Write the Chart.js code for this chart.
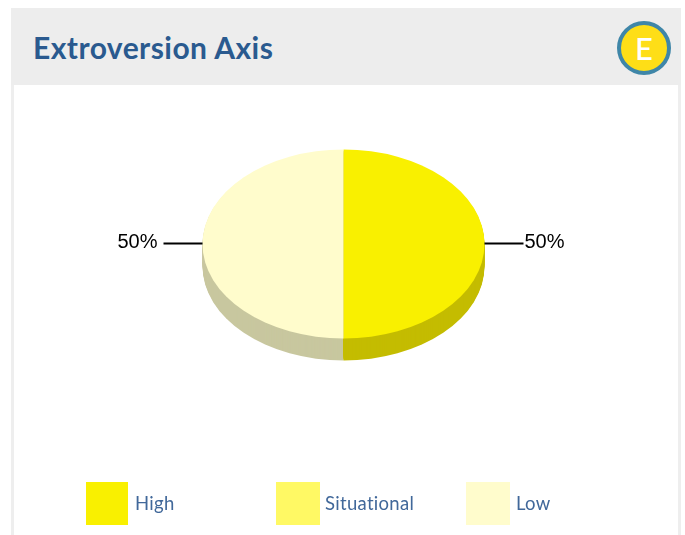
<!DOCTYPE html>
<html>
<head>
<meta charset="utf-8">
<script src="https://cdn.jsdelivr.net/npm/chart.js@4"></script>
<style>
html,body{margin:0;padding:0;background:#fff;width:685px;height:535px;overflow:hidden}
#panel{position:absolute;left:11px;top:85px;width:664px;height:450px;background:#fff;border-left:3px solid #eeeeee;border-right:3px solid #eeeeee}
#header{position:absolute;left:11px;top:8px;width:670px;height:77px;background:#ededed}
#title{position:absolute;left:33px;top:29px;font:700 30px/36px Lato,sans-serif;letter-spacing:.45px;color:#2a5a8f;white-space:nowrap}
#badge{position:absolute;left:617px;top:21px;width:46px;height:46px;border:4px solid #3f86a8;border-radius:50%;background:#fede17;color:#fff;font:500 31px/46px Lato,sans-serif;text-align:center}
canvas{position:absolute;left:0;top:0}
.sw{position:absolute;top:482px;height:43px}
.lb{position:absolute;top:491px;font:400 18.5px/24px Lato,sans-serif;letter-spacing:.3px;color:#41689a;white-space:nowrap}
</style>
</head>
<body>
<div id="header"></div>
<div id="panel"></div>
<div id="title">Extroversion Axis</div>
<div id="badge">E</div>
<canvas id="c" width="685" height="535"></canvas>
<div id="legend"></div>
<script>
const categories = ["High", "Situational", "Low"];
const shareValues = [50, 0, 50];
const sliceColors = ["#f9f000", "#fff964", "#fffccc"];
const sideColors = ["#c4bc00", "#c8c400", "#c8c79f"];

const squash = 0.67, depth = 22;

const pie3d = {
  id: "pie3d",
  beforeDatasetsDraw(chart) {
    const ctx = chart.ctx, arcs = chart.getDatasetMeta(0).data;
    ctx.save();
    [...arcs.keys()].reverse().forEach(i => {
      const a = arcs[i];
      const p = a.getProps(["x","y","startAngle","endAngle","outerRadius"], true);
      if (p.endAngle - p.startAngle <= 0) return;
      ctx.fillStyle = sideColors[i];
      for (let d = depth; d >= 1; d--) {
        ctx.save();
        ctx.translate(p.x, p.y + d);
        ctx.scale(1, squash);
        ctx.beginPath();
        ctx.moveTo(0, 0);
        ctx.arc(0, 0, p.outerRadius, p.startAngle, p.endAngle);
        ctx.closePath();
        ctx.fill();
        ctx.restore();
      }
    });
    ctx.restore();
    const first = arcs[0].getProps(["x","y"], true);
    ctx.save();
    ctx.translate(first.x, first.y);
    ctx.scale(1, squash);
    ctx.translate(-first.x, -first.y);
  },
  afterDatasetsDraw(chart) {
    const ctx = chart.ctx;
    ctx.restore();
    ctx.save();
    ctx.strokeStyle = "#000";
    ctx.lineWidth = 2;
    ctx.fillStyle = "#000";
    ctx.font = "20px 'Liberation Sans', Arial, sans-serif";
    ctx.textBaseline = "middle";
    chart.getDatasetMeta(0).data.forEach((a, i) => {
      const value = shareValues[i];
      if (!value) return;
      const p = a.getProps(["x","y","startAngle","endAngle","outerRadius"], true);
      const mid = (p.startAngle + p.endAngle) / 2;
      const ex = p.x + Math.cos(mid) * p.outerRadius;
      const ey = p.y + Math.sin(mid) * p.outerRadius * squash - 0.5;
      const dir = Math.cos(mid) >= 0 ? 1 : -1;
      ctx.beginPath();
      ctx.moveTo(ex, ey);
      ctx.lineTo(ex + dir * 39, ey);
      ctx.stroke();
      ctx.textAlign = dir > 0 ? "left" : "right";
      ctx.fillText(value + "%", ex + dir * (dir > 0 ? 40 : 45), ey - 1);
    });
    ctx.restore();
  }
};

new Chart(document.getElementById("c"), {
  type: "pie",
  data: {
    labels: categories,
    datasets: [{ data: shareValues, backgroundColor: sliceColors, borderWidth: 0, radius: 141 }]
  },
  options: {
    responsive: false,
    animation: false,
    layout: { padding: { left: 200, right: 198, top: 100, bottom: 147 } },
    plugins: { legend: { display: false }, tooltip: { enabled: false } }
  },
  plugins: [pie3d]
});

const swatchX = [86, 276, 466], swatchW = [42, 44, 44], labelX = [135, 325, 516];
const legend = document.getElementById("legend");
categories.forEach((name, i) => {
  const s = document.createElement("div");
  s.className = "sw";
  s.style.cssText = "left:" + swatchX[i] + "px;width:" + swatchW[i] + "px;background:" + sliceColors[i];
  const l = document.createElement("div");
  l.className = "lb";
  l.style.left = labelX[i] + "px";
  l.textContent = name;
  legend.append(s, l);
});
</script>
</body>
</html>
